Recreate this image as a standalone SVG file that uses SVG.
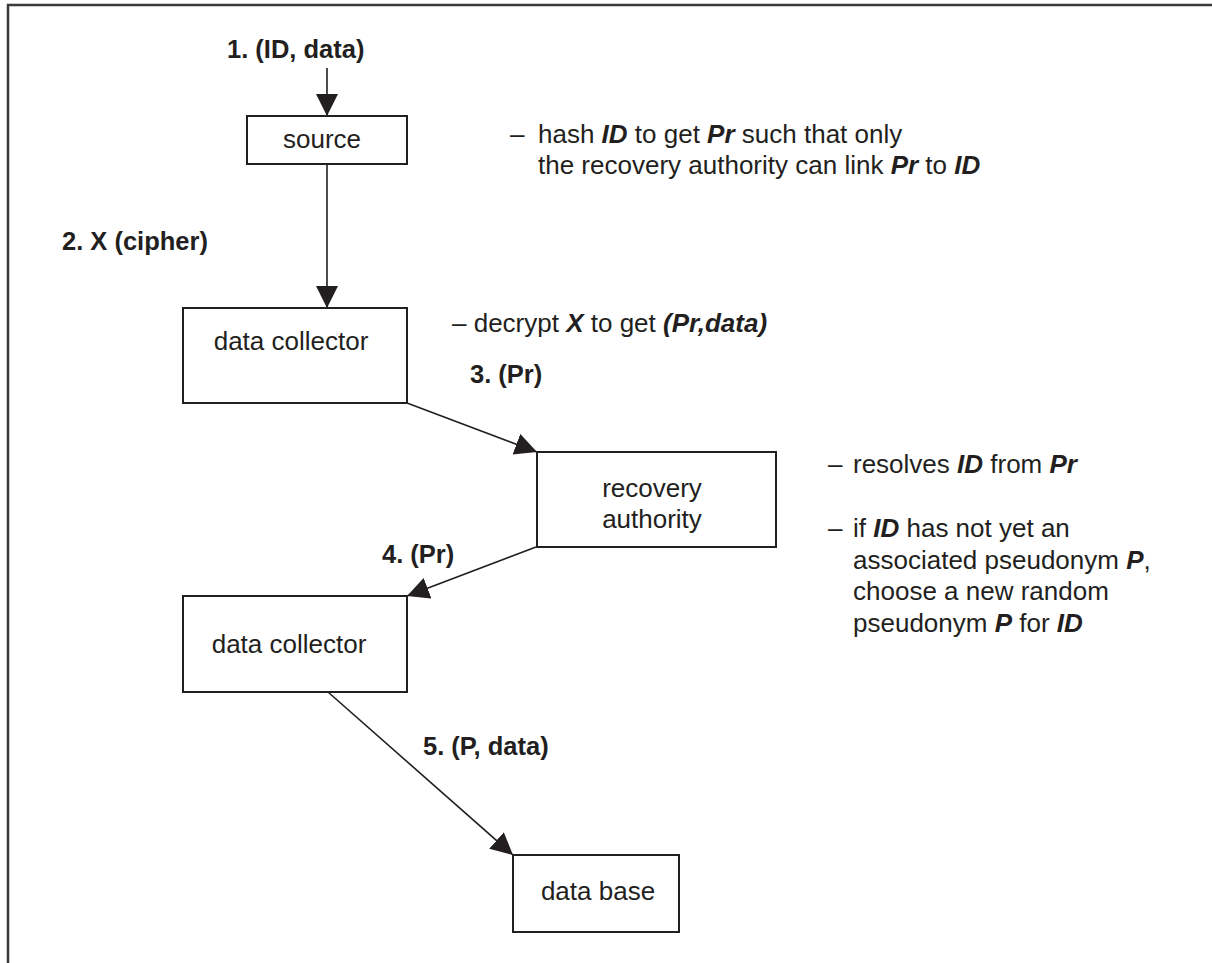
<svg xmlns="http://www.w3.org/2000/svg" width="1212" height="963" viewBox="0 0 1212 963">
<style>
  .box { fill: #ffffff; stroke: #231f20; stroke-width: 2; }
  .edge { fill: none; stroke: #231f20; stroke-width: 1.6; }
  .frame { fill: none; stroke: #3a3a3a; stroke-width: 2.5; }
  .lbl { font-family: "Liberation Sans", Arial, sans-serif; font-size: 26px; fill: #231f20; }
  .elbl { font-family: "Liberation Sans", Arial, sans-serif; font-size: 25.5px; font-weight: bold; fill: #231f20; }
  .note { font-family: "Liberation Sans", Arial, sans-serif; font-size: 26px; fill: #231f20; }
  .bi { font-weight: bold; font-style: italic; }
</style>
<defs>
  <marker id="arrow" markerUnits="userSpaceOnUse" markerWidth="23" markerHeight="23" viewBox="0 0 23 23" refX="22" refY="11" orient="auto">
    <path d="M0,0 L22,11 L0,22 z" fill="#231f20"/>
  </marker>
</defs>
<rect width="1212" height="963" fill="#ffffff"/>
<g id="frame">
  <path class="frame" d="M8,963 L8,5 L1212,5"/>
</g>
<g id="connectors">
  <line class="edge" x1="327" y1="68" x2="327" y2="116" marker-end="url(#arrow)"/>
  <line class="edge" x1="327" y1="164" x2="327" y2="308" marker-end="url(#arrow)"/>
  <line class="edge" x1="407" y1="403" x2="537" y2="452" marker-end="url(#arrow)"/>
  <line class="edge" x1="536" y1="547" x2="407" y2="596" marker-end="url(#arrow)"/>
  <line class="edge" x1="328" y1="692" x2="513" y2="855" marker-end="url(#arrow)"/>
  <text class="elbl" x="227" y="58">1. (ID, data)</text>
  <text class="elbl" x="62" y="250">2. X (cipher)</text>
  <text class="elbl" x="470" y="383">3. (Pr)</text>
  <text class="elbl" x="382" y="563">4. (Pr)</text>
  <text class="elbl" x="423" y="755">5. (P, data)</text>
</g>
<g id="source">
  <rect class="box" x="247" y="116" width="160" height="48"/>
  <text class="lbl" x="322" y="148" text-anchor="middle">source</text>
</g>
<g id="data-collector-1">
  <rect class="box" x="183" y="308" width="224" height="95"/>
  <text class="lbl" x="291" y="350" text-anchor="middle">data collector</text>
</g>
<g id="recovery-authority">
  <rect class="box" x="537" y="452" width="239" height="95"/>
  <text class="lbl" x="652" y="497" text-anchor="middle">recovery</text>
  <text class="lbl" x="652" y="528" text-anchor="middle">authority</text>
</g>
<g id="data-collector-2">
  <rect class="box" x="183" y="596" width="224" height="96"/>
  <text class="lbl" x="289" y="653" text-anchor="middle">data collector</text>
</g>
<g id="data-base">
  <rect class="box" x="513" y="855" width="166" height="77"/>
  <text class="lbl" x="598" y="900" text-anchor="middle">data base</text>
</g>
<g id="notes">
  <text class="note" x="510" y="143">–</text>
  <text class="note" x="538" y="143">hash <tspan class="bi">ID</tspan> to get <tspan class="bi">Pr</tspan> such that only</text>
  <text class="note" x="538" y="174">the recovery authority can link <tspan class="bi">Pr</tspan> to <tspan class="bi">ID</tspan></text>
  <text class="note" x="452" y="332">– decrypt <tspan class="bi">X</tspan> to get <tspan class="bi">(Pr,data)</tspan></text>
  <text class="note" x="828" y="473">–</text>
  <text class="note" x="853" y="473">resolves <tspan class="bi">ID</tspan> from <tspan class="bi">Pr</tspan></text>
  <text class="note" x="828" y="537">–</text>
  <text class="note" x="853" y="537">if <tspan class="bi">ID</tspan> has not yet an</text>
  <text class="note" x="853" y="569">associated pseudonym <tspan class="bi">P</tspan>,</text>
  <text class="note" x="853" y="600">choose a new random</text>
  <text class="note" x="853" y="632">pseudonym <tspan class="bi">P</tspan> for <tspan class="bi">ID</tspan></text>
</g>
</svg>
